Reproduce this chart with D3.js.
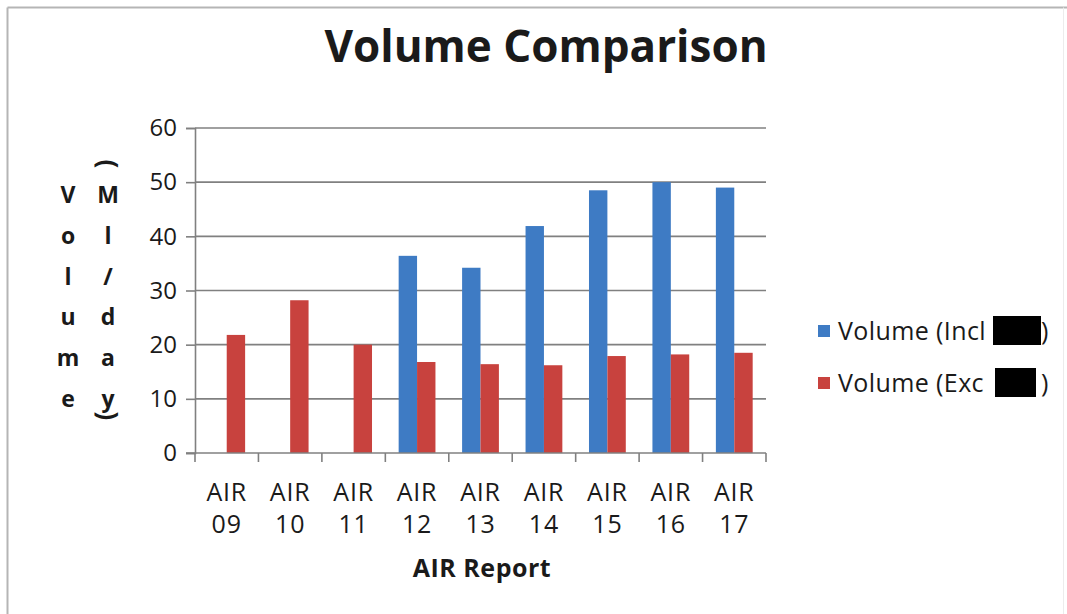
<!DOCTYPE html>
<html>
<head>
<meta charset="utf-8">
<script src="https://cdn.jsdelivr.net/npm/d3@7"></script>
<style>
  html, body { margin: 0; padding: 0; background: #fff; }
  svg { display: block; }
  text { font-family: "Open Sans", Lato, sans-serif; fill: #1a1a1a; }
</style>
</head>
<body>
<svg id="chart" width="1067" height="614"></svg>
<script>
// ---- data ----
const categories = ["AIR 09", "AIR 10", "AIR 11", "AIR 12", "AIR 13", "AIR 14", "AIR 15", "AIR 16", "AIR 17"];
const seriesNames = ["Volume (Incl", "Volume (Exc "];
const volumeIncl = [null, null, null, 36.4, 34.2, 41.9, 48.5, 50.0, 49.0];
const volumeExcl = [21.8, 28.2, 20.0, 16.8, 16.4, 16.2, 17.9, 18.2, 18.5];
const yTicks = [0, 10, 20, 30, 40, 50, 60];
const titleText = "Volume Comparison";
const xTitle = "AIR Report";
const yTitleCol1 = ["V", "o", "l", "u", "m", "e"];
const yTitleCol2 = ["M", "l", "/", "d", "a", "y"];

const colors = ["#3e7bc4", "#c8423e"];

(function () {
const svg = d3.select("#chart");

// frame lines
svg.append("line").attr("x1", 7.5).attr("x2", 1067).attr("y1", 7.5).attr("y2", 7.5)
  .attr("stroke", "#b5b5b5").attr("stroke-width", 2);
svg.append("line").attr("x1", 7.5).attr("x2", 7.5).attr("y1", 7.5).attr("y2", 614)
  .attr("stroke", "#b5b5b5").attr("stroke-width", 2);
svg.append("line").attr("x1", 1063.5).attr("x2", 1063.5).attr("y1", 7.5).attr("y2", 614)
  .attr("stroke", "#ececec").attr("stroke-width", 1);

const pLeft = 195, pRight = 766, pTop = 128, pBottom = 453;

const x = d3.scaleBand().domain(categories).range([pLeft, pRight]).paddingInner(0).paddingOuter(0);
const bw = x.bandwidth();
const x1 = d3.scaleBand().domain(seriesNames).range([bw * 0.21, bw * 0.79]).padding(0);
const y = d3.scaleLinear().domain([0, 60]).range([pBottom, pTop]);

// gridlines
svg.append("g").selectAll("line").data(yTicks.filter(d => d > 0)).join("line")
  .attr("x1", pLeft).attr("x2", pRight)
  .attr("y1", d => y(d)).attr("y2", d => y(d))
  .attr("stroke", "#808080").attr("stroke-width", 1.6);

// bars
const data = categories.map((c, i) => ({ cat: c, vals: [volumeIncl[i], volumeExcl[i]] }));
const groups = svg.append("g").selectAll("g").data(data).join("g")
  .attr("transform", d => `translate(${x(d.cat)},0)`);
groups.selectAll("rect")
  .data(d => d.vals.map((v, j) => ({ name: seriesNames[j], v, j })).filter(e => e.v != null))
  .join("rect")
  .attr("x", e => x1(e.name))
  .attr("width", x1.bandwidth())
  .attr("y", e => y(e.v))
  .attr("height", e => y(0) - y(e.v))
  .attr("fill", e => colors[e.j]);

// y axis
const yAxis = d3.axisLeft(y).tickValues(yTicks).tickSize(9).tickPadding(9).tickFormat(d3.format("d"));
const gy = svg.append("g").attr("transform", `translate(${pLeft},0)`).call(yAxis);
gy.select(".domain").attr("stroke", "#808080").attr("stroke-width", 1.6);
gy.selectAll(".tick line").attr("stroke", "#808080").attr("stroke-width", 1.6);
gy.selectAll(".tick text").style("font-size", "24px").attr("fill", "#1a1a1a")
  .style("font-family", "'Open Sans', Lato, sans-serif");

// x axis: ticks at category boundaries
const boundaries = categories.map(c => x(c)).concat([pRight]);
const gx = svg.append("g").attr("transform", `translate(0,${pBottom})`);
gx.append("line").attr("x1", pLeft - 9).attr("x2", pRight).attr("y1", 0).attr("y2", 0)
  .attr("stroke", "#808080").attr("stroke-width", 1.6);
gx.selectAll("line.tk").data(boundaries).join("line").attr("class", "tk")
  .attr("x1", d => d).attr("x2", d => d).attr("y1", 0).attr("y2", 9)
  .attr("stroke", "#808080").attr("stroke-width", 1.6);
const xl = gx.selectAll("text.cat").data(categories).join("text").attr("class", "cat")
  .attr("text-anchor", "middle")
  .style("font-size", "25px").style("letter-spacing", "0.8px");
xl.each(function (d) {
  const parts = d.split(" ");
  const t = d3.select(this);
  t.append("tspan").attr("x", x(d) + bw / 2).attr("y", 48).text(parts[0]);
  t.append("tspan").attr("x", x(d) + bw / 2).attr("y", 80).text(parts[1]);
});

// titles
svg.append("text").attr("x", 546).attr("y", 62).attr("text-anchor", "middle")
  .style("font-size", "44px").style("font-weight", "bold").attr("fill", "#111").text(titleText);
svg.append("text").attr("x", 482).attr("y", 577).attr("text-anchor", "middle")
  .style("font-size", "25px").style("letter-spacing", "0.5px").style("font-weight", "bold").text(xTitle);

// y title stacked letters
const yRowStart = 203, yRowStep = 40.8;
svg.append("g").selectAll("text").data(yTitleCol1).join("text")
  .attr("x", 68).attr("y", (d, i) => yRowStart + i * yRowStep)
  .attr("text-anchor", "middle").style("font-size", "23px").style("font-weight", "bold").text(d => d);
svg.append("g").selectAll("text").data(yTitleCol2).join("text")
  .attr("x", 108).attr("y", (d, i) => yRowStart + i * yRowStep)
  .attr("text-anchor", "middle").style("font-size", "23px").style("font-weight", "bold").text(d => d);
svg.append("text").attr("transform", "translate(108,164) rotate(90)")
  .attr("text-anchor", "middle").attr("dy", "0.35em")
  .style("font-size", "26px").style("font-weight", "bold").text("(");
svg.append("text").attr("transform", "translate(108,416) rotate(90)")
  .attr("text-anchor", "middle").attr("dy", "0.35em")
  .style("font-size", "26px").style("font-weight", "bold").text(")");

// legend
const legendY = [331, 383];
const redactX = [[993, 1041], [995, 1036]];
const lg = svg.append("g").selectAll("g").data(seriesNames).join("g")
  .attr("transform", (d, i) => `translate(0,${legendY[i]})`);
lg.append("rect").attr("x", 818).attr("y", -6).attr("width", 12).attr("height", 12)
  .attr("fill", (d, i) => colors[i]);
lg.append("text").attr("x", 838).attr("y", 0).attr("dy", "0.35em")
  .style("font-size", "25px").style("letter-spacing", "0.4px").text(d => d);
lg.append("rect").attr("x", (d, i) => redactX[i][0]).attr("y", -15)
  .attr("width", (d, i) => redactX[i][1] - redactX[i][0]).attr("height", 29).attr("fill", "#000");
lg.append("text").attr("x", 1041).attr("y", 0).attr("dy", "0.35em")
  .style("font-size", "25px").text(")");
})();
</script>
</body>
</html>
